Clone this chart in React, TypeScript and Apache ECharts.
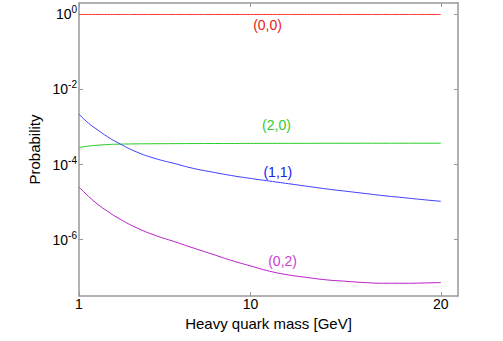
import React, { useEffect, useRef } from "react";
import * as echarts from "echarts";

const xValues = [1, 1.5, 2, 2.5, 3, 4, 5, 6, 7, 8, 9, 10, 11, 12, 13, 14, 15, 16, 17, 18, 19, 20];
const p00 = [0.99, 0.99, 0.99, 0.99, 0.99, 0.99, 0.99, 0.99, 0.99, 0.99, 0.99, 0.99, 0.99, 0.99, 0.99, 0.99, 0.99, 0.99, 0.99, 0.99, 0.99, 0.99];
const p20 = [2.84e-4, 3.1e-4, 3.28e-4, 3.4e-4, 3.48e-4, 3.55e-4, 3.58e-4, 3.6e-4, 3.62e-4, 3.63e-4, 3.64e-4, 3.65e-4, 3.66e-4, 3.66e-4, 3.67e-4, 3.68e-4, 3.68e-4, 3.69e-4, 3.69e-4, 3.7e-4, 3.7e-4, 3.7e-4];
const p11 = [2.19e-3, 1.26e-3, 8.2e-4, 5.5e-4, 3.9e-4, 2.19e-4, 1.45e-4, 1.07e-4, 7.9e-5, 6.3e-5, 5.1e-5, 4.27e-5, 3.63e-5, 3.09e-5, 2.63e-5, 2.24e-5, 1.95e-5, 1.7e-5, 1.48e-5, 1.32e-5, 1.17e-5, 1.05e-5];
const p02 = [2.51e-5, 1.42e-5, 8.6e-6, 5.7e-6, 3.9e-6, 2.1e-6, 1.3e-6, 8.9e-7, 6.0e-7, 4.1e-7, 2.8e-7, 2.0e-7, 1.45e-7, 1.15e-7, 9.8e-8, 8.5e-8, 7.8e-8, 7.2e-8, 6.9e-8, 6.9e-8, 7.0e-8, 7.2e-8];

const seriesNames = ["(0,0)", "(2,0)", "(1,1)", "(0,2)"];
const labelX = [10.9, 11.37, 11.44, 11.69];
const labelY = [0.52, 1.12e-3, 6.3e-5, 2.7e-7];

const xTicks = [1, 10, 20];
const yTicks = [1e-6, 1e-4, 1e-2, 1];

const FONT = "Liberation Sans";
const lineColors = ["#ff3030", "#22cc22", "#3c3cff", "#b81cc8"];
const textColors = ["#ee2020", "#33cc33", "#2020ee", "#cc40cc"];
const dataSets = [p00, p20, p11, p02];

export default function App() {
  const ref = useRef<HTMLDivElement>(null);
  useEffect(() => {
    if (!ref.current) return;
    const chart = echarts.init(ref.current, undefined, { renderer: "svg" });
    const axisGray = "#999999";
    const yLabelFmt = (v: number) => `{b|10}{s|${Math.round(Math.log10(v))}}`;
    const xBase = {
      type: "value" as const,
      min: 1,
      max: 20.9,
      axisLine: { show: true, onZero: false, lineStyle: { color: axisGray, width: 1.5 } },
      axisTick: { show: true, inside: true, length: 4, customValues: xTicks, lineStyle: { color: axisGray } },
      splitLine: { show: false },
    };
    const yBase = {
      type: "log" as const,
      logBase: 10,
      min: 3.16e-8,
      max: 2.0,
      axisLine: { show: true, onZero: false, lineStyle: { color: axisGray, width: 1.5 } },
      axisTick: { show: true, inside: true, length: 4, customValues: yTicks, lineStyle: { color: axisGray } },
      splitLine: { show: false },
      minorTick: { show: false },
    };
    chart.setOption({
      animation: false,
      backgroundColor: "#ffffff",
      grid: { left: 79, top: 3, right: 45, bottom: 45, containLabel: false },
      xAxis: [
        {
          ...xBase,
          position: "bottom",
          name: "Heavy quark mass [GeV]",
          nameLocation: "middle",
          nameGap: 17,
          nameTextStyle: { fontFamily: FONT, fontSize: 15, color: "#000" },
          axisLabel: {
            customValues: xTicks,
            margin: 1,
            fontFamily: FONT,
            fontSize: 14,
            color: "#000",
          },
        },
        { ...xBase, position: "top", axisLabel: { show: false } },
      ],
      yAxis: [
        {
          ...yBase,
          position: "left",
          name: "Probability",
          nameLocation: "middle",
          nameGap: 26,
          nameTextStyle: { fontFamily: FONT, fontSize: 15, color: "#000" },
          axisLabel: {
            customValues: yTicks,
            margin: 2,
            formatter: yLabelFmt,
            rich: {
              b: { fontFamily: FONT, fontSize: 14, color: "#000" },
              s: { fontFamily: FONT, fontSize: 10, color: "#000", padding: [0, 0, 9, 0] },
            },
          },
        },
        { ...yBase, position: "right", axisLabel: { show: false } },
      ],
      series: dataSets.map((d, i) => ({
        type: "line",
        name: seriesNames[i],
        xAxisIndex: 0,
        yAxisIndex: 0,
        data: xValues.map((x, j) => [x, d[j]]),
        showSymbol: false,
        smooth: 0.5,
        lineStyle: { color: lineColors[i], width: 1 },
        markPoint: {
          symbol: "circle",
          symbolSize: 0,
          data: [{ coord: [labelX[i], labelY[i]], value: seriesNames[i] }],
          label: {
            show: true,
            position: "inside",
            formatter: seriesNames[i],
            fontFamily: FONT,
            fontSize: 14,
            color: textColors[i],
          },
        },
      })),
    });
    return () => chart.dispose();
  }, []);
  return <div ref={ref} style={{ position: "absolute", left: 0, top: 0, width: 503, height: 341 }} />;
}
